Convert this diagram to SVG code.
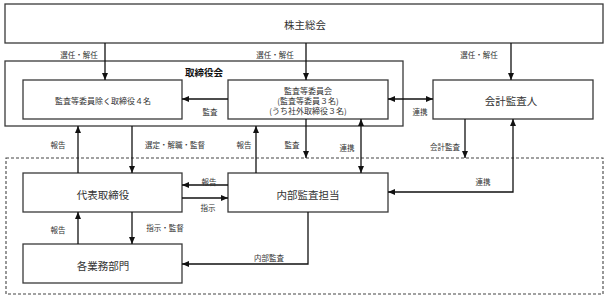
<svg xmlns="http://www.w3.org/2000/svg" width="608" height="298" viewBox="0 0 608 298">
<defs>
<marker id="ah" markerUnits="userSpaceOnUse" markerWidth="8" markerHeight="7" refX="7" refY="3" orient="auto-start-reverse" viewBox="0 0 8 6">
<path d="M0,0 L7,3 L0,6 z" fill="#111"/>
</marker>
</defs>
<style>
.box{fill:#fff;stroke:#3a3a3a;stroke-width:1.3}
.dash{fill:none;stroke:#444;stroke-width:1.1;stroke-dasharray:3 2}
.ln{fill:none;stroke:#111;stroke-width:1.3}
.a{marker-end:url(#ah)}
.b{marker-start:url(#ah);marker-end:url(#ah)}
text{font-family:"Noto Sans CJK JP","Noto Sans CJK SC",sans-serif;fill:#333;text-anchor:middle;dominant-baseline:central}
.big{font-size:10.5px}
.mid{font-size:8px}
.sm{font-size:7.5px}
.ttl{font-size:9.5px;font-weight:bold;fill:#111}
</style>
<rect class="dash" x="6" y="158" width="597" height="136"/>
<g id="shareholders"><rect class="box" x="5" y="4" width="598" height="39"/><text class="big" x="305" y="24">株主総会</text></g>
<g id="board"><rect class="box" x="5" y="61" width="398" height="65"/><text class="ttl" x="204" y="72">取締役会</text></g>
<g id="directors"><rect class="box" x="23" y="80" width="159" height="39"/><text class="mid" x="103" y="100">監査等委員除く取締役４名</text></g>
<g id="auditcommittee"><rect class="box" x="228" y="80" width="160" height="39"/><text class="mid" x="308" y="90">監査等委員会</text><text class="mid" x="308" y="100">(監査等委員３名)</text><text class="mid" x="308" y="110">(うち社外取締役３名)</text></g>
<g id="accountingauditor"><rect class="box" x="433" y="80" width="160" height="39"/><text class="big" x="511" y="100">会計監査人</text></g>
<g id="representative"><rect class="box" x="23" y="173" width="159" height="39"/><text class="big" x="103" y="194">代表取締役</text></g>
<g id="internalaudit"><rect class="box" x="228" y="173" width="160" height="39"/><text class="big" x="308" y="194">内部監査担当</text></g>
<g id="departments"><rect class="box" x="23" y="244" width="159" height="39"/><text class="big" x="103" y="265">各業務部門</text></g>
<g id="connectors">
<line class="ln a" x1="105" y1="43" x2="105" y2="80"/>
<line class="ln a" x1="306" y1="43" x2="306" y2="80"/>
<line class="ln a" x1="511" y1="43" x2="511" y2="80"/>
<line class="ln a" x1="228" y1="99" x2="182" y2="99"/>
<line class="ln b" x1="388" y1="99" x2="433" y2="99"/>
<line class="ln a" x1="78" y1="173" x2="78" y2="126"/>
<line class="ln a" x1="132" y1="126" x2="132" y2="173"/>
<line class="ln a" x1="256" y1="173" x2="256" y2="126"/>
<line class="ln a" x1="306" y1="119" x2="306" y2="158"/>
<line class="ln b" x1="361" y1="119" x2="361" y2="173"/>
<line class="ln a" x1="465" y1="119" x2="465" y2="158"/>
<polyline class="ln b" points="513,119 513,192 388,192"/>
<line class="ln a" x1="228" y1="185" x2="182" y2="185"/>
<line class="ln a" x1="182" y1="198" x2="228" y2="198"/>
<line class="ln a" x1="132" y1="212" x2="132" y2="244"/>
<line class="ln a" x1="78" y1="244" x2="78" y2="212"/>
<polyline class="ln a" points="308,212 308,264 182,264"/>
<text class="sm" x="79" y="54">選任・解任</text>
<text class="sm" x="275" y="54">選任・解任</text>
<text class="sm" x="479" y="54">選任・解任</text>
<text class="sm" x="210" y="111">監査</text>
<text class="sm" x="420" y="111">連携</text>
<text class="sm" x="58" y="144">報告</text>
<text class="sm" x="175" y="144">選定・解職・監督</text>
<text class="sm" x="244" y="144">報告</text>
<text class="sm" x="292" y="144">監査</text>
<text class="sm" x="347" y="147">連携</text>
<text class="sm" x="445" y="146">会計監査</text>
<text class="sm" x="483" y="181">連携</text>
<text class="sm" x="209" y="181">報告</text>
<text class="sm" x="208" y="207">指示</text>
<text class="sm" x="58" y="229">報告</text>
<text class="sm" x="165" y="227">指示・監督</text>
<text class="sm" x="269" y="257">内部監査</text>
</g>
</svg>
